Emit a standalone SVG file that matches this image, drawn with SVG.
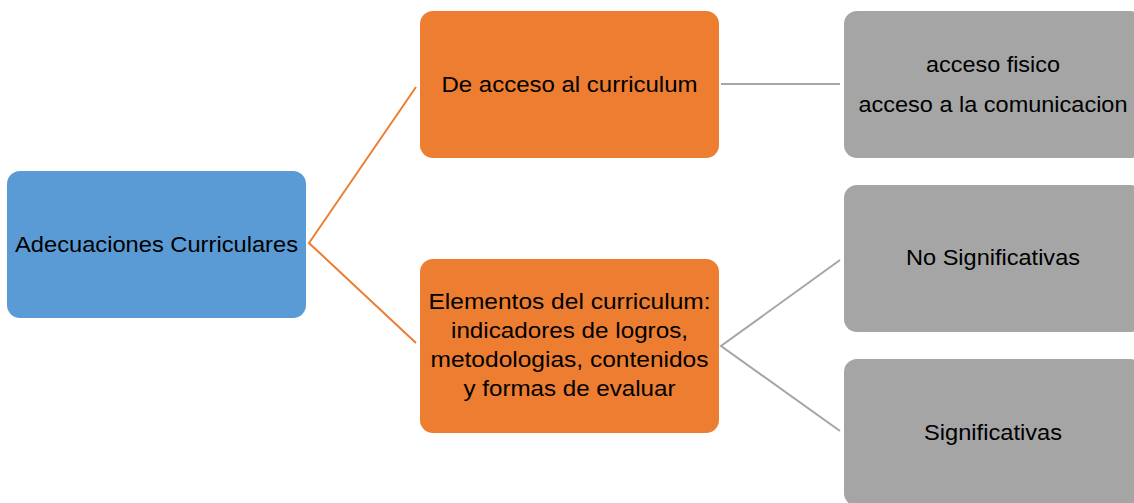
<svg xmlns="http://www.w3.org/2000/svg" width="1134" height="503" viewBox="0 0 1134 503">
<style>
.t{font-family:"Liberation Sans",Arial,sans-serif;font-size:22.5px;fill:#000;text-anchor:middle}
.blue{fill:#5B9BD5}
.orange{fill:#ED7D31}
.gray{fill:#A5A5A5}
.co{fill:none;stroke:#ED7D31;stroke-width:2}
.cg{fill:none;stroke:#A5A5A5;stroke-width:2}
</style>
<rect width="1134" height="503" fill="#fff"/>
<g id="connectors">
<polyline class="co" points="416,87 309,243 416,343"/>
<line class="cg" x1="721" y1="84" x2="840" y2="84"/>
<polyline class="cg" points="840,260 721,346 840,431"/>
</g>
<g id="n-root">
<rect class="blue" x="7" y="171" width="299" height="147" rx="13"/>
<text class="t" x="156.5" y="252" textLength="283" lengthAdjust="spacingAndGlyphs">Adecuaciones Curriculares</text>
</g>
<g id="n-acceso">
<rect class="orange" x="420" y="11" width="299" height="147" rx="13"/>
<text class="t" x="569.5" y="92" textLength="256" lengthAdjust="spacingAndGlyphs">De acceso al curriculum</text>
</g>
<g id="n-elementos">
<rect class="orange" x="420" y="259" width="299" height="174" rx="13"/>
<text class="t" x="569.5" y="309" textLength="282" lengthAdjust="spacingAndGlyphs">Elementos del curriculum:</text>
<text class="t" x="569.5" y="338" textLength="237" lengthAdjust="spacingAndGlyphs">indicadores de logros,</text>
<text class="t" x="569.5" y="367" textLength="278" lengthAdjust="spacingAndGlyphs">metodologias, contenidos</text>
<text class="t" x="569.5" y="396" textLength="212" lengthAdjust="spacingAndGlyphs">y formas de evaluar</text>
</g>
<g id="n-fisico">
<rect class="gray" x="844" y="11" width="299" height="147" rx="13"/>
<text class="t" x="993" y="72" textLength="134" lengthAdjust="spacingAndGlyphs">acceso fisico</text>
<text class="t" x="993" y="112" textLength="269" lengthAdjust="spacingAndGlyphs">acceso a la comunicacion</text>
</g>
<g id="n-nosig">
<rect class="gray" x="844" y="185" width="299" height="147" rx="13"/>
<text class="t" x="993" y="265" textLength="174" lengthAdjust="spacingAndGlyphs">No Significativas</text>
</g>
<g id="n-sig">
<rect class="gray" x="844" y="359" width="299" height="147" rx="13"/>
<text class="t" x="993" y="440" textLength="138" lengthAdjust="spacingAndGlyphs">Significativas</text>
</g>
</svg>
